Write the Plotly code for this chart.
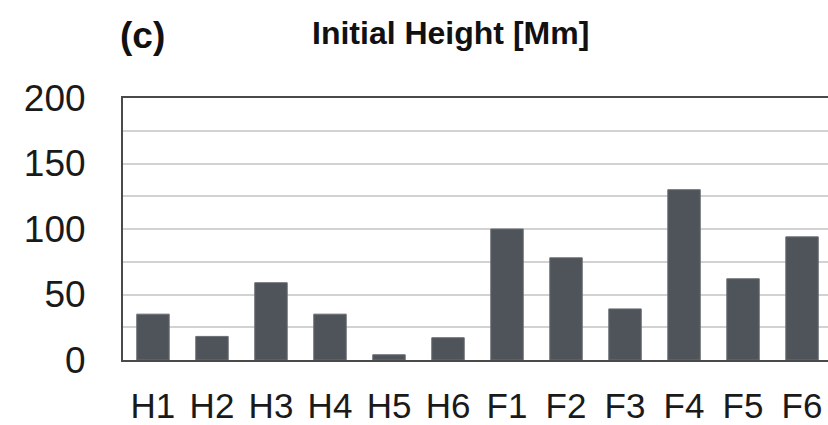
import plotly.graph_objects as go

# Initial heights of the events, in megametres
events = ["H1", "H2", "H3", "H4", "H5", "H6", "F1", "F2", "F3", "F4", "F5", "F6"]
heights = [35, 18, 59, 35, 4, 17, 100, 78, 39, 130, 62, 94]

y_ticks = [0, 50, 100, 150, 200]

FONT = "Liberation Sans, Arial, Helvetica, sans-serif"
BAR = "#4f535a"

fig = go.Figure(
    go.Bar(
        x=events,
        y=heights,
        marker=dict(color=BAR, line=dict(color="#6a6e74", width=1)),
        width=0.55,
    )
)

fig.update_layout(
    width=828,
    height=425,
    margin=dict(l=123, r=0, t=98, b=62),
    paper_bgcolor="white",
    plot_bgcolor="white",
    showlegend=False,
    font=dict(family=FONT, color="#1a1a1a"),
    xaxis=dict(
        range=[-0.508, 11.44],
        showline=True,
        linecolor="#4a4a4a",
        linewidth=2,
        mirror=True,
        showgrid=False,
        ticks="",
        tickfont=dict(size=35, family=FONT, color="#1a1a1a"),
        ticklabelstandoff=14,
    ),
    yaxis=dict(
        range=[0, 200],
        tickvals=y_ticks,
        showline=True,
        linecolor="#4a4a4a",
        linewidth=2,
        showgrid=True,
        gridcolor="#d2d2d2",
        gridwidth=1.5,
        minor=dict(dtick=25, showgrid=True, gridcolor="#d2d2d2", gridwidth=1.5),
        zeroline=False,
        ticks="",
        tickfont=dict(size=37, family=FONT, color="#1a1a1a"),
        ticklabelstandoff=28,
    ),
    annotations=[
        dict(
            text="<b>(c)</b>",
            xref="paper", yref="paper",
            x=-0.007, y=1.0,
            xanchor="left", yanchor="bottom",
            yshift=40,
            showarrow=False,
            font=dict(size=37, family=FONT, color="#111111"),
        ),
        dict(
            text="<b>Initial Height [Mm]</b>",
            xref="paper", yref="paper",
            x=(450 - 123) / 705, y=1.0,
            xanchor="center", yanchor="bottom",
            yshift=45,
            showarrow=False,
            font=dict(size=32, family=FONT, color="#111111"),
        ),
    ],
)

fig.write_html("out.html")
